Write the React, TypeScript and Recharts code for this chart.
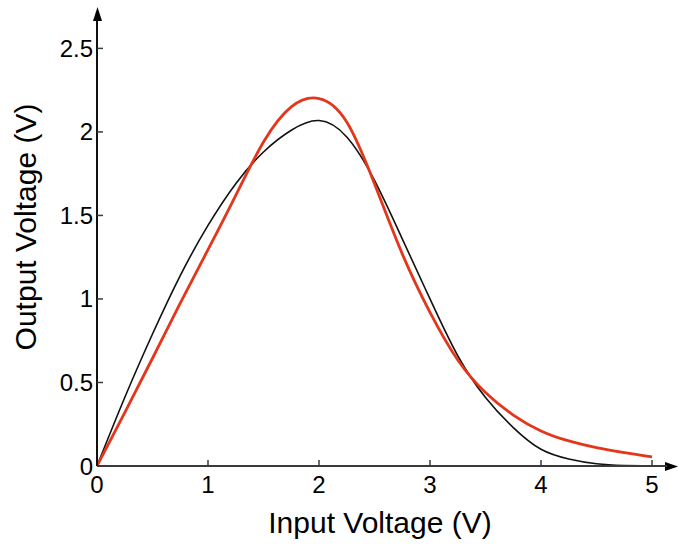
import React from 'react';
import {
  LineChart,
  Line,
  XAxis,
  YAxis,
  Label,
  Customized,
} from 'recharts';

// input voltage samples (V)
const inputV = [0, 0.25, 0.5, 0.75, 1, 1.25, 1.5, 1.75, 2, 2.25, 2.5, 2.75, 3, 3.25, 3.5, 3.75, 4, 4.25, 4.5, 4.75, 5];
// simulated output (red)
const simOut = [0, 0.32, 0.645, 0.975, 1.295, 1.62, 1.94, 2.15, 2.2, 2.06, 1.69, 1.27, 0.92, 0.635, 0.44, 0.305, 0.21, 0.15, 0.11, 0.08, 0.055];
// measured output (black)
const measOut = [0, 0.41, 0.79, 1.14, 1.44, 1.69, 1.88, 2.01, 2.068, 1.97, 1.71, 1.36, 1.0, 0.66, 0.41, 0.23, 0.1, 0.042, 0.013, 0.003, 0];

const xTicks = [0, 1, 2, 3, 4, 5];
const yTicks = [0, 0.5, 1, 1.5, 2, 2.5];

const data = inputV.map((v, i) => ({ vin: v, sim: simOut[i], meas: measOut[i] }));

const AXIS = '#3a3a3a';

const YTitle = (props: any) => {
  const vb = props.viewBox || { x: 37, y: 20, width: 60, height: 446 };
  const x = vb.x - 1;
  const y = vb.y + vb.height / 2 - 16;
  return (
    <text x={x} y={y} transform={`rotate(-90, ${x}, ${y})`} textAnchor="middle" fontSize={30} fill="#000">
      Output Voltage (V)
    </text>
  );
};

const XTitle = (props: any) => {
  const vb = props.viewBox || { x: 97, y: 466, width: 570, height: 40 };
  return (
    <text x={vb.x + vb.width / 2 - 2} y={vb.y + 67} textAnchor="middle" fontSize={30} fill="#000">
      Input Voltage (V)
    </text>
  );
};

// arrow heads at the ends of both axes
const Arrows = () => (
  <g fill="#000">
    <polygon points="97.5,7 93,21 102,21" />
    <polygon points="678,466.5 665,462 665,471" />
  </g>
);

const App = () => {
  return (
    <div style={{ position: 'fixed', left: 0, top: 0, background: '#fff', fontFamily: '"Liberation Sans", Arial, sans-serif' }}>
      <LineChart width={679} height={549} data={data} margin={{ top: 20, right: 12, left: 37, bottom: 43 }}>
        <XAxis
          dataKey="vin"
          type="number"
          domain={[0, 5.135]}
          ticks={xTicks}
          height={40}
          stroke={AXIS}
          strokeWidth={2}
          tickSize={-6}
          tickMargin={16}
          tick={{ fontSize: 24, fill: '#000' }}
          tickLine={{ stroke: AXIS, strokeWidth: 1.5 }}
          allowDataOverflow
        >
          <Label content={<XTitle />} />
        </XAxis>
        <YAxis
          type="number"
          domain={[0, 2.67]}
          ticks={yTicks}
          width={60}
          stroke="#111"
          strokeWidth={2}
          tickSize={-6}
          tickMargin={10}
          tick={{ fontSize: 24, fill: '#000' }}
          tickLine={{ stroke: AXIS, strokeWidth: 1.5 }}
          allowDataOverflow
        >
          <Label content={<YTitle />} />
        </YAxis>
        <Line
          type="natural"
          dataKey="meas"
          stroke="#111"
          strokeWidth={1.6}
          dot={false}
          isAnimationActive={false}
        />
        <Line
          type="natural"
          dataKey="sim"
          stroke="#e3361b"
          strokeWidth={2.8}
          dot={false}
          isAnimationActive={false}
        />
        <Customized component={<Arrows />} />
      </LineChart>
    </div>
  );
};

export default App;
